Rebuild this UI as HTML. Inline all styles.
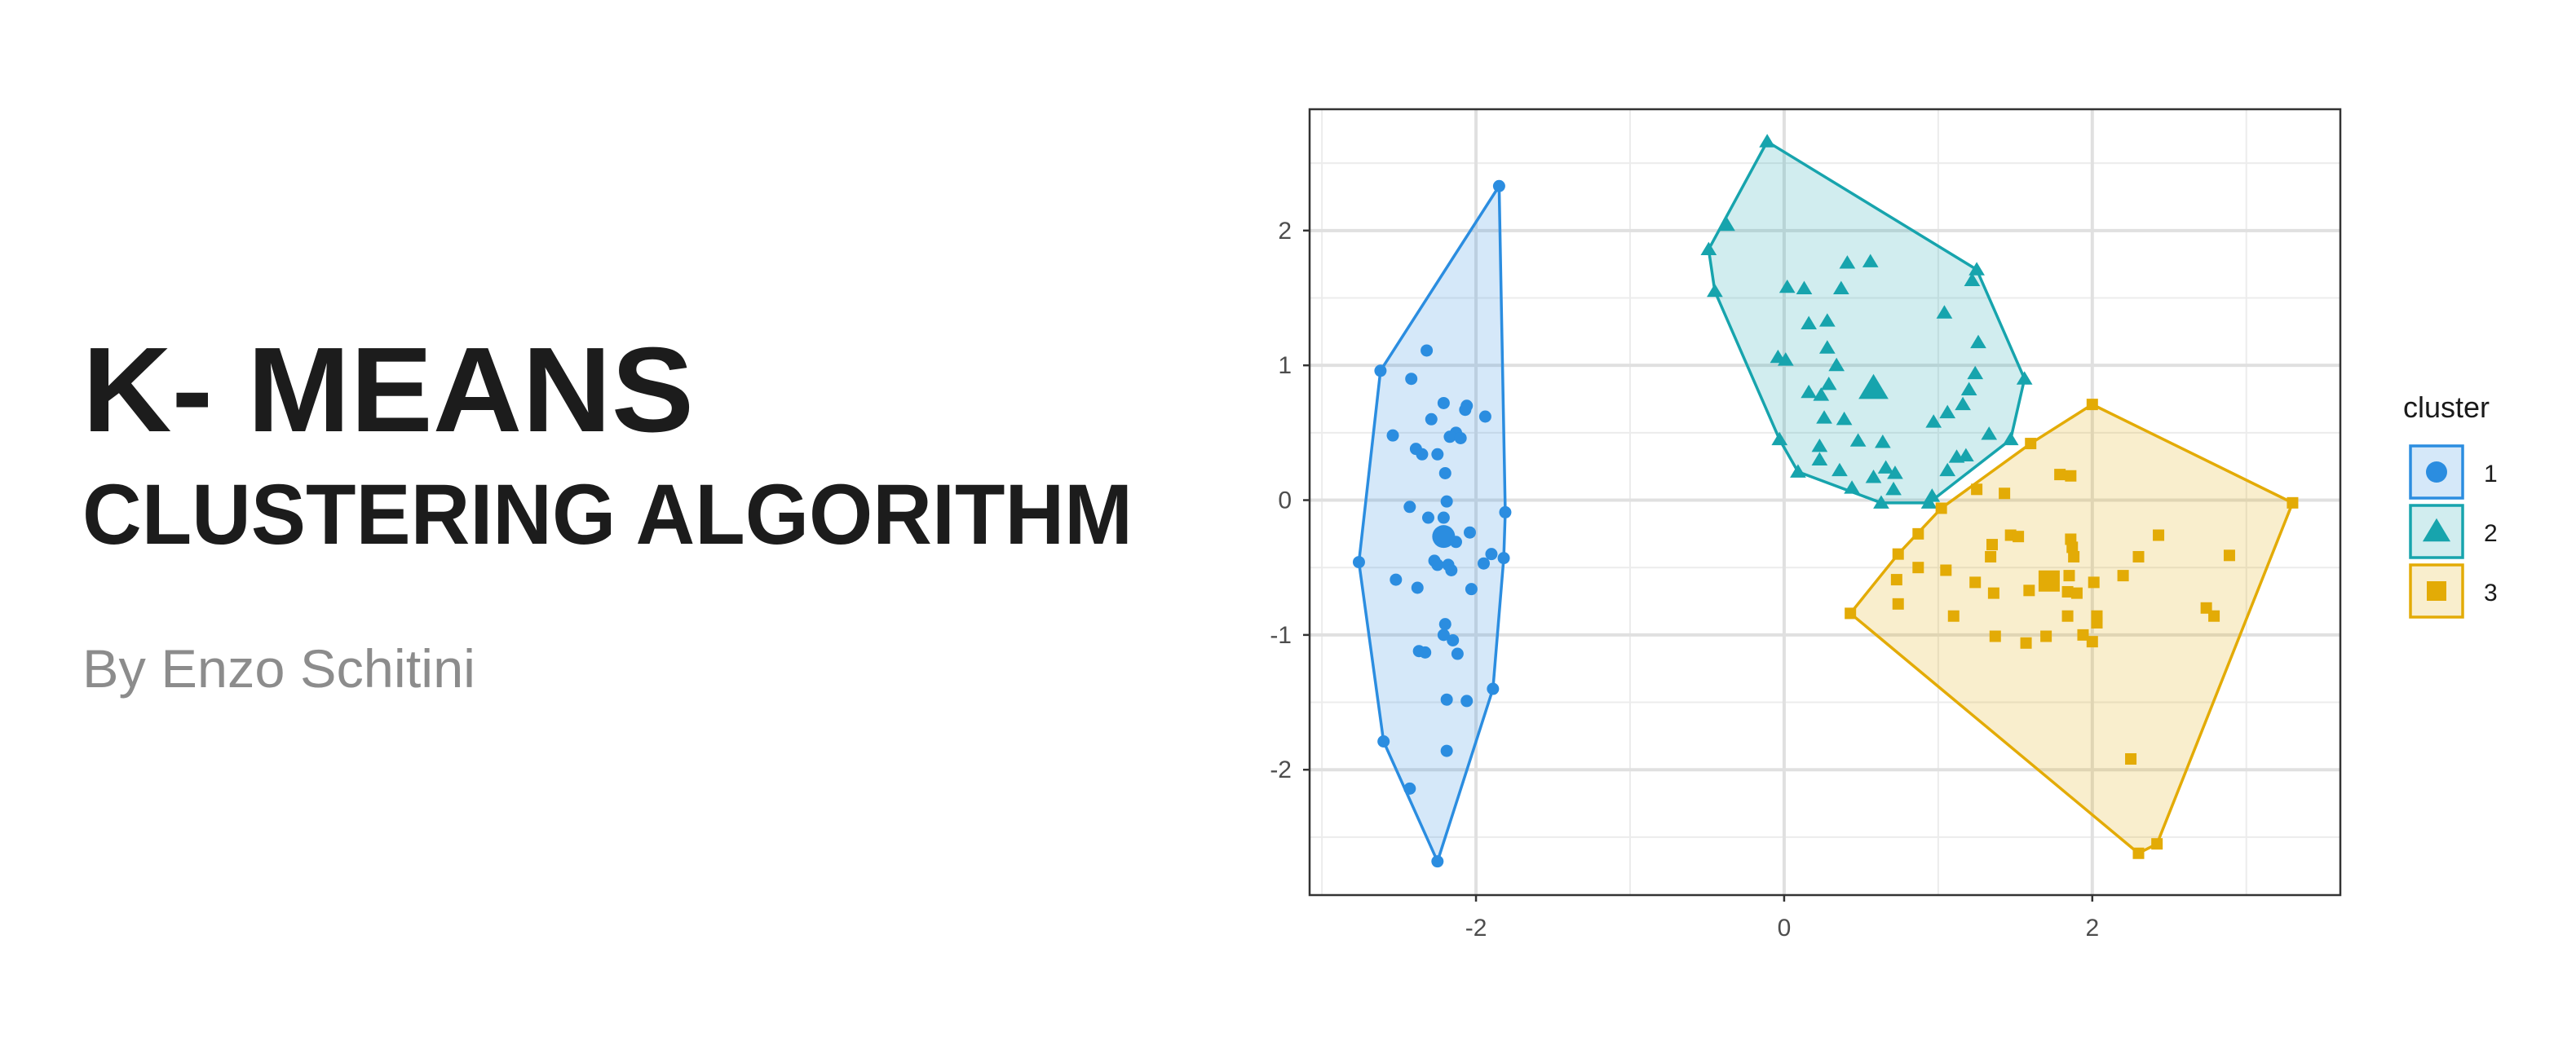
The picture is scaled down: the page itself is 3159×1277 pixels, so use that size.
<!DOCTYPE html>
<html><head><meta charset="utf-8">
<style>
html,body{margin:0;padding:0;background:#fff;}
svg{display:block;}
</style></head>
<body>
<svg id="root" width="3159" height="1277" viewBox="0 0 3159 1277" xmlns="http://www.w3.org/2000/svg" font-family="Liberation Sans, sans-serif">
<rect width="3159" height="1277" fill="#fff"/>
<text x="101" y="529" font-size="148" font-weight="bold" fill="#1c1c1c" textLength="750" lengthAdjust="spacingAndGlyphs">K- MEANS</text>
<text x="101" y="667" font-size="105" font-weight="bold" fill="#1c1c1c" textLength="1288" lengthAdjust="spacingAndGlyphs">CLUSTERING ALGORITHM</text>
<text x="101" y="843" font-size="66" fill="#8c8c8c" textLength="482" lengthAdjust="spacingAndGlyphs">By Enzo Schitini</text>
<g id="chart"></g>
</svg>
<script>
const clusterNames = ["1","2","3"];
const xTicks = [-2,0,2];
const yTicks = [-2,-1,0,1,2];
const c1x = [-1.85,-2.62,-2.76,-2.60,-2.43,-2.25,-1.89,-1.82,-1.81,-2.32,-2.42,-2.21,-2.06,-2.07,-1.94,-2.29,-2.54,-2.13,-2.17,-2.10,-2.39,-2.35,-2.25,-2.20,-2.19,-2.43,-2.31,-2.21,-2.04,-2.23,-2.18,-2.13,-2.27,-2.25,-2.18,-2.16,-1.95,-1.90,-2.52,-2.38,-2.03,-2.20,-2.21,-2.15,-2.12,-2.37,-2.33,-2.19,-2.06,-2.19];
const c1y = [2.33,0.96,-0.46,-1.79,-2.14,-2.68,-1.40,-0.43,-0.09,1.11,0.90,0.72,0.70,0.67,0.62,0.60,0.48,0.50,0.47,0.46,0.38,0.34,0.34,0.20,-0.01,-0.05,-0.13,-0.13,-0.24,-0.28,-0.29,-0.31,-0.45,-0.48,-0.48,-0.52,-0.47,-0.40,-0.59,-0.65,-0.66,-0.92,-1.00,-1.04,-1.14,-1.12,-1.13,-1.48,-1.49,-1.86];
const c2x = [-0.11,1.25,1.56,1.47,0.94,0.63,0.44,0.09,-0.03,-0.45,-0.49,-0.37,0.41,0.56,0.02,0.13,0.37,1.04,0.16,0.28,1.26,0.28,-0.04,0.01,0.34,1.24,0.29,0.16,0.24,1.20,1.16,1.06,0.26,0.39,0.97,1.33,0.48,0.64,0.23,0.23,1.12,1.18,0.36,0.66,0.72,1.06,0.58,0.71,0.96,1.22];
const c2y = [2.66,1.71,0.90,0.45,-0.02,-0.02,0.09,0.21,0.45,1.55,1.86,2.04,1.76,1.77,1.58,1.57,1.57,1.39,1.31,1.33,1.17,1.13,1.06,1.04,1.00,0.94,0.86,0.80,0.78,0.82,0.71,0.65,0.61,0.60,0.58,0.49,0.44,0.43,0.40,0.30,0.32,0.33,0.22,0.24,0.20,0.22,0.17,0.08,0.03,1.63];
const c3x = [2.00,3.30,2.42,2.30,0.43,0.74,0.87,1.02,1.60,1.79,1.86,1.25,1.43,1.47,1.52,1.86,2.43,1.35,1.87,1.34,1.88,2.30,2.89,0.73,0.87,1.05,1.24,1.36,1.59,1.85,2.01,2.20,1.84,1.90,0.74,1.10,1.84,2.03,2.03,2.74,2.79,1.37,1.57,1.70,1.94,2.00,2.25];
const c3y = [0.71,-0.02,-2.55,-2.62,-0.84,-0.40,-0.25,-0.06,0.42,0.19,0.18,0.08,0.05,-0.26,-0.27,-0.29,-0.26,-0.33,-0.35,-0.42,-0.42,-0.42,-0.41,-0.59,-0.50,-0.52,-0.61,-0.69,-0.67,-0.56,-0.61,-0.56,-0.68,-0.69,-0.77,-0.86,-0.86,-0.86,-0.91,-0.80,-0.86,-1.01,-1.06,-1.01,-1.00,-1.05,-1.92];
const centersX = [-2.21,0.58,1.72];
const centersY = [-0.27,0.83,-0.60];

const NS="http://www.w3.org/2000/svg";
const g=document.getElementById('chart');
const P={l:1606,r:2870,t:134,b:1098};
const X0=-3.08,X1=3.61,Y0=-2.93,Y1=2.90;
const sx=v=>P.l+(v-X0)/(X1-X0)*(P.r-P.l);
const sy=v=>P.b-(v-Y0)/(Y1-Y0)*(P.b-P.t);
const cols=["#2b8de0","#17a4ad","#e3ab06"];
function mk(tag,at,parent){const e=document.createElementNS(NS,tag);for(const k in at)e.setAttribute(k,at[k]);(parent||g).appendChild(e);return e;}

const bg=mk('rect',{x:P.l,y:P.t,width:P.r-P.l,height:P.b-P.t,fill:'#fff'});


for(let v=-3;v<=3;v+=2){const l=mk('line',{x1:sx(v),x2:sx(v),y1:P.t,y2:P.b,stroke:'#ececec','stroke-width':2});

}
for(let v=-2.5;v<=2.5;v+=1){const l=mk('line',{x1:P.l,x2:P.r,y1:sy(v),y2:sy(v),stroke:'#ececec','stroke-width':2});

}
xTicks.forEach(v=>{const l=mk('line',{x1:sx(v),x2:sx(v),y1:P.t,y2:P.b,stroke:'#e0e0e0','stroke-width':4});

});
yTicks.forEach(v=>{const l=mk('line',{x1:P.l,x2:P.r,y1:sy(v),y2:sy(v),stroke:'#e0e0e0','stroke-width':4});

});

function hull(pts){pts=pts.slice().sort((a,b)=>a[0]-b[0]||a[1]-b[1]);const cr=(o,a,b)=>(a[0]-o[0])*(b[1]-o[1])-(a[1]-o[1])*(b[0]-o[0]);
const lo=[],up=[];for(const p of pts){while(lo.length>=2&&cr(lo[lo.length-2],lo[lo.length-1],p)<=0)lo.pop();lo.push(p);}
for(let i=pts.length-1;i>=0;i--){const p=pts[i];while(up.length>=2&&cr(up[up.length-2],up[up.length-1],p)<=0)up.pop();up.push(p);}
up.pop();lo.pop();return lo.concat(up);}

function marker(shape,x,y,s,col,parent){
 if(shape===0) return mk('circle',{cx:x,cy:y,r:s,fill:col},parent);
 if(shape===1){const h=s*1.25;return mk('polygon',{points:`${x},${y-h} ${x-h*1.05},${y+h*0.75} ${x+h*1.05},${y+h*0.75}`,fill:col},parent);}
 return mk('rect',{x:x-s,y:y-s,width:2*s,height:2*s,fill:col},parent);
}
const XS=[c1x,c2x,c3x],YS=[c1y,c2y,c3y];
for(let c=0;c<3;c++){
 const pts=XS[c].map((v,i)=>[v,YS[c][i]]);
 const h=hull(pts);
 const poly=mk('polygon',{points:h.map(p=>sx(p[0])+','+sy(p[1])).join(' '),fill:cols[c],'fill-opacity':0.2,stroke:cols[c],'stroke-width':3.5,'stroke-linejoin':'round'});
 
 
}
for(let c=0;c<3;c++){
 for(let i=0;i<XS[c].length;i++){
  const m=marker(c,sx(XS[c][i]),sy(YS[c][i]),c===2?7:7.5,cols[c]);
  
  
 }
 const ce=marker(c,sx(centersX[c]),sy(centersY[c]),c===2?13:14,cols[c]);
 
 
}
const border=mk('rect',{x:P.l,y:P.t,width:P.r-P.l,height:P.b-P.t,fill:'none',stroke:'#333','stroke-width':2.5});


xTicks.forEach(v=>{const t=mk('line',{x1:sx(v),x2:sx(v),y1:P.b,y2:P.b+8,stroke:'#333','stroke-width':2.5});


const l=mk('text',{x:sx(v),y:1148,'font-size':30,fill:'#4d4d4d','text-anchor':'middle'});l.textContent=v;

});
yTicks.forEach(v=>{const t=mk('line',{x1:P.l-8,x2:P.l,y1:sy(v),y2:sy(v),stroke:'#333','stroke-width':2.5});


const l=mk('text',{x:1584,y:sy(v)+10,'font-size':30,fill:'#4d4d4d','text-anchor':'end'});l.textContent=v;

});
const lt=mk('text',{x:2947,y:512,'font-size':36,fill:'#1a1a1a'});lt.textContent='cluster';


for(let c=0;c<3;c++){
 const y=547+c*73;
 const lg=mk('g',{});
 
 
 mk('rect',{x:2956,y:y,width:64,height:64,fill:cols[c],'fill-opacity':0.2,stroke:cols[c],'stroke-width':3.5},lg);
 marker(c,2988,y+32,c===2?12:13,cols[c],lg);
 const t=mk('text',{x:3046,y:y+44,'font-size':30,fill:'#1a1a1a'},lg);t.textContent=clusterNames[c];
}
</script>
</body></html>
